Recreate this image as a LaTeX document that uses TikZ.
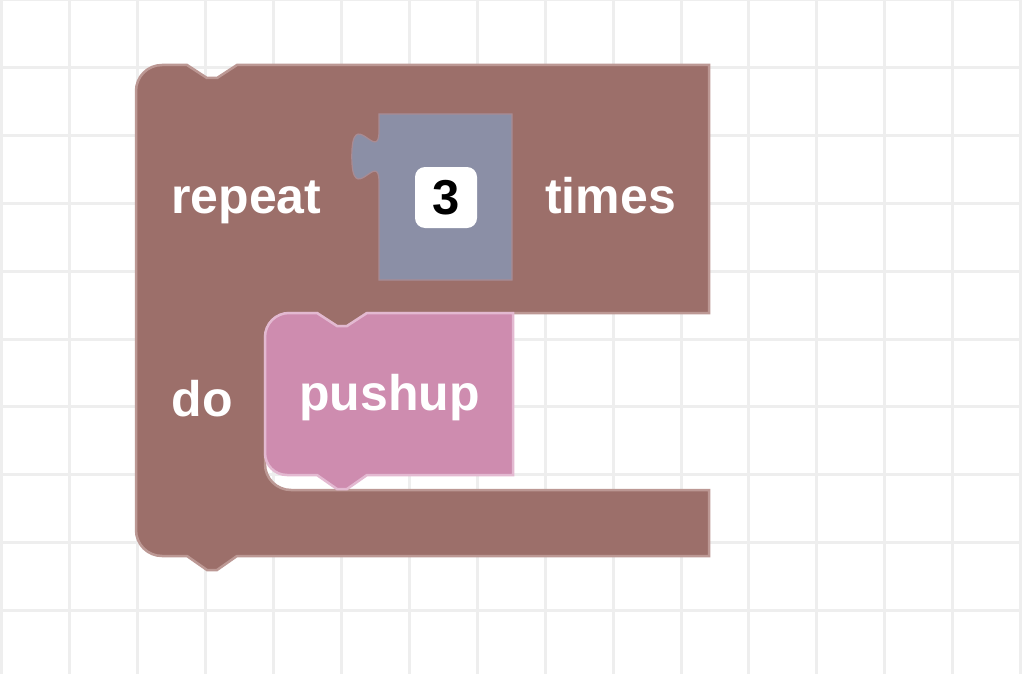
\documentclass[tikz,border=0pt]{standalone}
\usepackage{fontspec}
\setmainfont{Liberation Sans}
\usepackage{tikz}
\definecolor{loopred}{HTML}{9C6F6A}
\definecolor{loopedge}{HTML}{BC9894}
\definecolor{pushpink}{HTML}{CE8CAF}
\definecolor{pushedge}{HTML}{E3B9D1}
\definecolor{numgray}{HTML}{8B8FA6}
\definecolor{numedge}{HTML}{A98B93}
\definecolor{gridgray}{HTML}{EEEEEE}
\tikzset{x=1pt,y=-1pt,
  lbl/.style={text=white,font=\fontsize{50}{50}\selectfont\bfseries,inner sep=0pt,anchor=base west},
  field/.style={fill=white,rounded corners=10pt,minimum width=62pt,minimum height=61pt,inner sep=0pt,font=\fontsize{49}{49}\selectfont\bfseries},
  gridline/.style={gridgray,line width=3pt}}

\begin{document}
\begin{tikzpicture}
    \useasboundingbox (0,0) rectangle (1022,674);
    \fill[white] (0,0) rectangle (1022,674);
    \foreach \i in {0,...,15} \draw[gridline] ({1.7+67.93*\i},0) -- ({1.7+67.93*\i},674);
    \foreach \j in {0,...,9} \draw[gridline] (0,{67.8*\j}) -- (1022,{67.8*\j});
    % repeat block
    \draw[loopedge,line width=2.5pt,fill=loopred] (136,91) arc[start angle=180,end angle=270,radius=26]
      -- (187,65) -- (207,78) -- (217,78) -- (237,65) -- (709,65) -- (709,313)
      -- (367,313) -- (347,326) -- (337,326) -- (317,313) -- (290,313)
      arc[start angle=270,end angle=180,radius=25] -- (265,464)
      arc[start angle=180,end angle=90,radius=26] -- (709,490) -- (709,556)
      -- (237,556) -- (217,570) -- (207,570) -- (187,556) -- (162,556)
      arc[start angle=90,end angle=180,radius=26] -- cycle;
    % number block
    \draw[numedge,line width=1.2pt,fill=numgray] (379,114) -- (512,114) -- (512,280) -- (379,280) -- (379,182)
      .. controls (379,148) and (351.8,209.2) .. (351.8,156.5)
      .. controls (351.8,103.8) and (379,165) .. (379,131) -- cycle;
    % pushup block
    \draw[pushedge,line width=2.5pt,fill=pushpink] (265,337) arc[start angle=180,end angle=270,radius=24]
      -- (317,313) -- (337,326) -- (347,326) -- (367,313) -- (513,313) -- (513,475)
      -- (367,475) -- (347,489) -- (337,489) -- (317,475) -- (287,475)
      arc[start angle=90,end angle=180,radius=22] -- cycle;
    \node[lbl] (rep) at (171,213) {repeat};
    \node[field] (num) at (446,197.5) {3};
    \node[lbl] (tim) at (545,213) {times};
    \node[lbl] (do) at (171.5,416) {do};
    \node[lbl] (push) at (299,410) {pushup};
\end{tikzpicture}
\end{document}
